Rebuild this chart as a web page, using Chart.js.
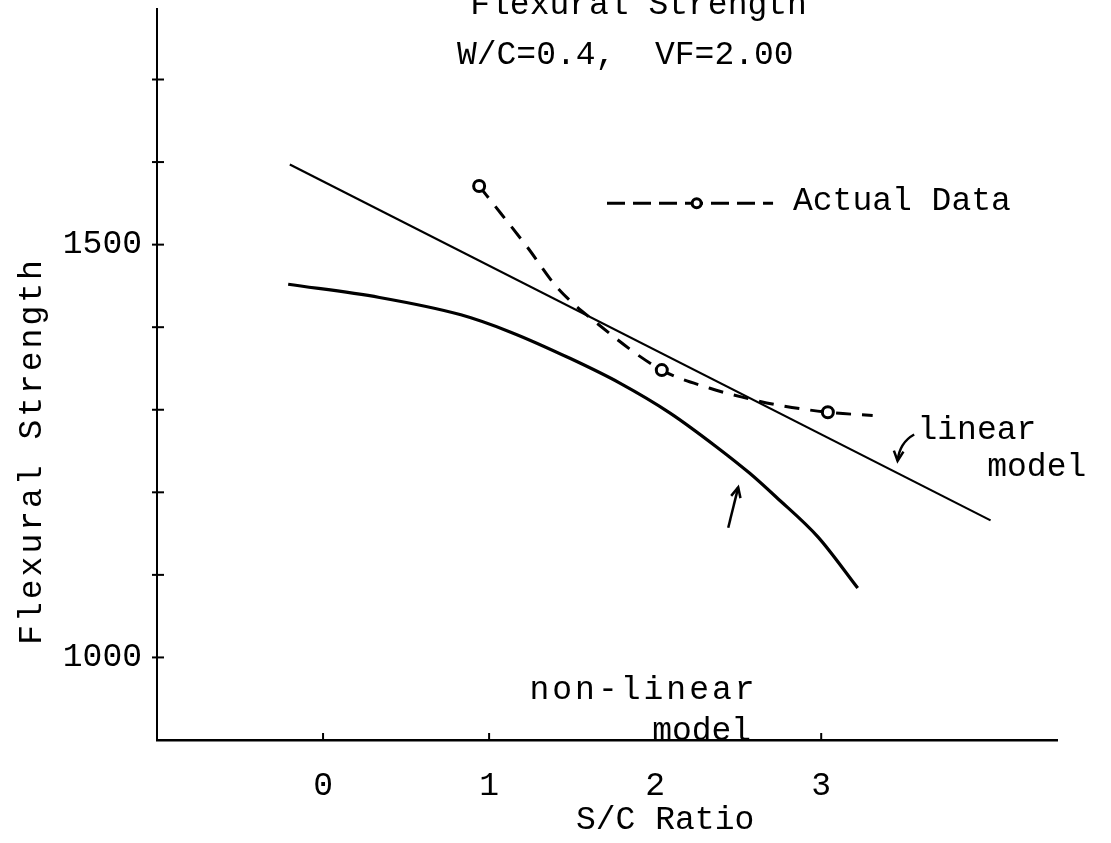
<!DOCTYPE html>
<html>
<head>
<meta charset="utf-8">
<script src="https://cdn.jsdelivr.net/npm/chart.js@4.4.1/dist/chart.umd.min.js"></script>
<style>
    html, body { margin: 0; padding: 0; background: #fff; }
    #wrap { width: 1111px; height: 843px; }
</style>
</head>
<body>
<div id="wrap"><canvas id="myChart" width="1111" height="843"></canvas></div>
<script>
// values
var linearX = [-0.2, 4.02];
var linearY = [1597, 1166];

var nonLinearX = [-0.21, 0.34, 0.83, 1.13, 1.49, 1.79, 2.09, 2.37, 2.57, 2.73, 2.98, 3.22];
var nonLinearY = [1452, 1436, 1415, 1394, 1362, 1332, 1296, 1255, 1223, 1194, 1146, 1084];

// hand drawn dashed curve through the measured points
var actualCurveX = [0.94, 1.07, 1.23, 1.41, 1.63, 2.04, 2.33, 2.53, 2.73, 3.04, 3.31];
var actualCurveY = [1571, 1538, 1497, 1448, 1408, 1348, 1326, 1315, 1306, 1297, 1293];

// measured points (circles)
var actualX = [0.94, 2.04, 3.04];
var actualY = [1571, 1348, 1297];

var xTicks = [0, 1, 2, 3];
var yTicks = [1000, 1100, 1200, 1300, 1400, 1500, 1600, 1700];
var yLabels = [1000, 1500];

var FONT = '"Liberation Mono", "DejaVu Sans Mono", monospace';

function toPoints(xs, ys) {
    let pts = [];
    for (let i = 0; i < xs.length; i++) {
        pts.push({x: xs[i], y: ys[i]});
    }
    return pts;
}

function drawArrowHead(ctx, fromX, fromY, toX, toY, size) {
    var ang = Math.atan2(toY - fromY, toX - fromX);
    ctx.beginPath();
    ctx.moveTo(toX - size * Math.cos(ang - 0.45), toY - size * Math.sin(ang - 0.45));
    ctx.lineTo(toX, toY);
    ctx.lineTo(toX - size * Math.cos(ang + 0.45), toY - size * Math.sin(ang + 0.45));
    ctx.stroke();
}

// tick marks, titles, legend and the hand lettered notes
var overlay = {
    id: 'overlay',
    afterDraw: function (chart) {
        var ctx = chart.ctx;
        var x = chart.scales.x;
        var y = chart.scales.y;
        var px = function (v) { return x.getPixelForValue(v); };
        var py = function (v) { return y.getPixelForValue(v); };
        var area = chart.chartArea;

        ctx.save();
        ctx.strokeStyle = '#000';
        ctx.fillStyle = '#000';
        ctx.lineCap = 'butt';

        // ticks
        ctx.lineWidth = 2;
        yTicks.forEach(function (v) {
            ctx.beginPath();
            ctx.moveTo(area.left - 5, py(v));
            ctx.lineTo(area.left + 7, py(v));
            ctx.stroke();
        });
        xTicks.forEach(function (v) {
            ctx.beginPath();
            ctx.moveTo(px(v), area.bottom);
            ctx.lineTo(px(v), area.bottom - 7);
            ctx.stroke();
        });

        ctx.font = '33px ' + FONT;
        ctx.textBaseline = 'middle';

        // titles
        ctx.textAlign = 'center';
        ctx.fillText('Flexural Strength', px(1.9), py(1790));
        ctx.fillText('W/C=0.4,  VF=2.00', px(1.82), py(1729));
        ctx.fillText('S/C Ratio', px(2.06), py(803));

        ctx.save();
        ctx.translate(32, 451);
        ctx.rotate(-Math.PI / 2);
        ctx.letterSpacing = '3px';
        ctx.fillText('Flexural Strength', 0, 0);
        ctx.restore();

        // legend
        var ly = py(1550);
        ctx.lineWidth = 3;
        ctx.setLineDash([18, 8]);
        ctx.beginPath();
        ctx.moveTo(px(1.71), ly);
        ctx.lineTo(px(2.71), ly);
        ctx.stroke();
        ctx.setLineDash([]);
        ctx.beginPath();
        ctx.arc(px(2.25), ly, 4.5, 0, Math.PI * 2);
        ctx.fillStyle = '#fff';
        ctx.fill();
        ctx.stroke();
        ctx.fillStyle = '#000';
        ctx.textAlign = 'left';
        ctx.fillText('Actual Data', px(2.83), py(1552));

        // notes
        ctx.fillText('linear', px(3.58), py(1275));
        ctx.fillText('model', px(4.0), py(1230));
        ctx.textAlign = 'center';
        ctx.fillText('model', px(2.28), py(911));
        ctx.letterSpacing = '3px';
        ctx.fillText('non-linear', px(1.93), py(960));
        ctx.letterSpacing = '0px';

        // arrow to the linear model
        ctx.lineWidth = 2.5;
        var a1 = {x: px(3.56), y: py(1270)};
        var a2 = {x: px(3.46), y: py(1238)};
        ctx.beginPath();
        ctx.moveTo(a1.x, a1.y);
        ctx.quadraticCurveTo(a2.x + 2, a1.y + 8, a2.x, a2.y);
        ctx.stroke();
        drawArrowHead(ctx, a2.x + 2, a1.y + 8, a2.x, a2.y, 11);

        // arrow to the non-linear model
        var b1 = {x: px(2.44), y: py(1157)};
        var b2 = {x: px(2.50), y: py(1206)};
        ctx.beginPath();
        ctx.moveTo(b1.x, b1.y);
        ctx.lineTo(b2.x, b2.y);
        ctx.stroke();
        drawArrowHead(ctx, b1.x, b1.y, b2.x, b2.y, 11);

        ctx.restore();
    }
};

var ctx1 = document.getElementById('myChart').getContext('2d');
new Chart(ctx1, {
    type: 'scatter',
    data: {
        datasets: [{
            label: 'linear model',
            data: toPoints(linearX, linearY),
            showLine: true,
            borderColor: '#000',
            borderWidth: 2.2,
            pointRadius: 0,
            order: 3
        }, {
            label: 'non-linear model',
            data: toPoints(nonLinearX, nonLinearY),
            showLine: true,
            borderColor: '#000',
            borderWidth: 3.2,
            pointRadius: 0,
            cubicInterpolationMode: 'monotone',
            order: 2
        }, {
            label: 'Actual Data curve',
            data: toPoints(actualCurveX, actualCurveY),
            showLine: true,
            borderColor: '#000',
            borderWidth: 3,
            borderDash: [15, 11],
            pointRadius: 0,
            cubicInterpolationMode: 'monotone',
            order: 1
        }, {
            label: 'Actual Data',
            data: toPoints(actualX, actualY),
            showLine: false,
            pointRadius: 5.5,
            pointBorderWidth: 3,
            pointBorderColor: '#000',
            pointBackgroundColor: '#fff',
            order: 0
        }]
    },
    options: {
        responsive: false,
        animation: false,
        devicePixelRatio: 1,
        layout: {
            padding: {top: 8, right: 54, left: 0, bottom: 0}
        },
        plugins: {
            legend: {display: false},
            tooltip: {enabled: false}
        },
        scales: {
            x: {
                type: 'linear',
                min: -1,
                max: 4.42,
                afterBuildTicks: function (scale) {
                    scale.ticks = xTicks.map(function (v) { return {value: v}; });
                },
                afterFit: function (scale) {
                    scale.height = 103;
                    scale.paddingLeft = 0;
                    scale.paddingRight = 0;
                },
                grid: {display: false, drawTicks: false},
                border: {display: true, color: '#000', width: 2.5},
                ticks: {
                    color: '#000',
                    padding: 26,
                    font: {family: FONT, size: 33},
                    maxRotation: 0
                }
            },
            y: {
                type: 'linear',
                min: 900,
                max: 1786,
                afterBuildTicks: function (scale) {
                    scale.ticks = yTicks.map(function (v) { return {value: v}; });
                },
                afterFit: function (scale) {
                    scale.width = 157;
                    scale.paddingTop = 0;
                    scale.paddingBottom = 0;
                },
                grid: {display: false, drawTicks: false},
                border: {display: true, color: '#000', width: 2},
                ticks: {
                    color: '#000',
                    padding: 15,
                    font: {family: FONT, size: 33},
                    callback: function (value) {
                        return yLabels.indexOf(value) >= 0 ? String(value) : '';
                    }
                }
            }
        }
    },
    plugins: [overlay]
});
</script>
</body>
</html>
